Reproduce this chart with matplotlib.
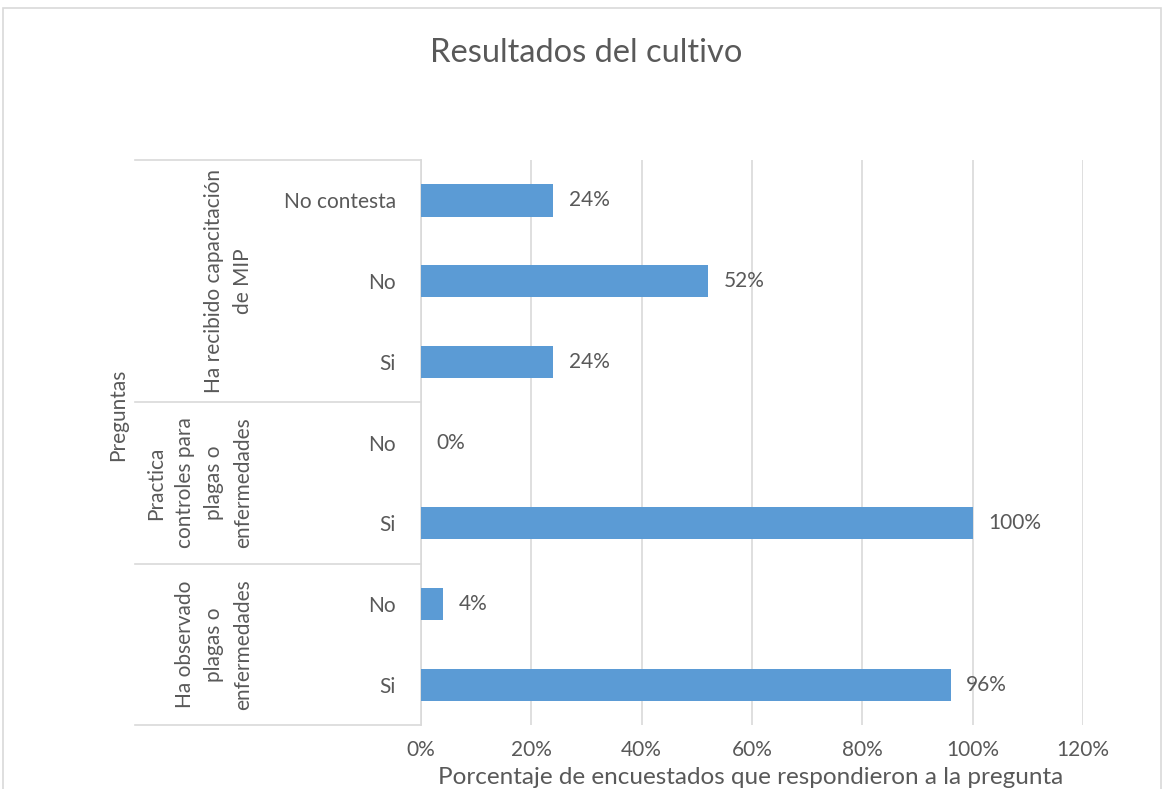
import matplotlib
matplotlib.use("Agg")
import matplotlib.pyplot as plt
from matplotlib.patches import Rectangle

# Data (bottom to top)
groups = ["Ha observado\nplagas o\nenfermedades",
          "Practica\ncontroles para\nplagas o\nenfermedades",
          "Ha recibido capacitación\nde MIP"]
group_sizes = [2, 2, 3]
answers = ["Si", "No", "Si", "No", "Si", "No", "No contesta"]
values = [96, 4, 100, 0, 24, 52, 24]
x_ticks = [0, 20, 40, 60, 80, 100, 120]

plt.rcParams["font.family"] = ["Lato", "DejaVu Sans"]
text_color = "#595959"
grid_color = "#d9d9d9"
bar_color = "#5b9bd5"
fs = 15

W, H = 1162, 789
fig = plt.figure(figsize=(W / 100, H / 100), dpi=100)
ax = fig.add_axes([421 / W, 1 - 725 / H, 662 / W, 565 / H])

# outer chart border
fig.patches.append(Rectangle((3 / W, -0.1), (W - 4) / W, 1.1 - 8 / H,
                             transform=fig.transFigure, fill=False,
                             edgecolor=grid_color, lw=1.2))

y = list(range(len(values)))
ax.barh(y, values, height=0.4, color=bar_color, zorder=3)
for yi, v in zip(y, values):
    ax.text(v + 2.8, yi, f"{v}%", va="center", ha="left", fontsize=fs,
            color=text_color)

ax.set_xlim(0, 120)
ax.set_ylim(-0.5, len(values) - 0.5)
ax.set_xticks(x_ticks)
ax.set_xticklabels([f"{t}%" for t in x_ticks], fontsize=fs, color=text_color)
ax.tick_params(axis="x", length=0, pad=11)
ax.set_yticks(y)
ax.set_yticklabels(answers, fontsize=fs, color=text_color)
ax.tick_params(axis="y", length=0, pad=18)
ax.grid(axis="x", color=grid_color, lw=1.2, zorder=0)
for s in ["top", "right", "bottom"]:
    ax.spines[s].set_visible(False)
ax.spines["left"].set_color(grid_color)
ax.spines["left"].set_linewidth(1.2)

# group separators and labels
trans = ax.get_yaxis_transform()
x0 = (135 - 421) / 662
start = -0.5
ax.plot([x0, 0], [start, start], transform=trans, color=grid_color, lw=1.2,
        clip_on=False)
for g, n in zip(groups, group_sizes):
    end = start + n
    ax.plot([x0, 0], [end, end], transform=trans, color=grid_color, lw=1.2,
            clip_on=False)
    ax.text((253 - 421) / 662, (start + end) / 2, g, transform=trans,
            rotation=90, ha="right", va="center", multialignment="center",
            fontsize=fs, color=text_color, linespacing=1.55)
    start = end

fig.text(118 / W, 1 - 415 / H, "Preguntas", rotation=90, ha="center",
         va="center", fontsize=fs, color=text_color)
fig.text(751 / W, 1 - 777 / H,
         "Porcentaje de encuestados que respondieron a la pregunta",
         ha="center", va="center", fontsize=17.5, color=text_color)
fig.text(586 / W, 1 - 53 / H, "Resultados del cultivo", ha="center",
         va="center", fontsize=23.5, color=text_color)

fig.savefig("out.png", dpi=100)
